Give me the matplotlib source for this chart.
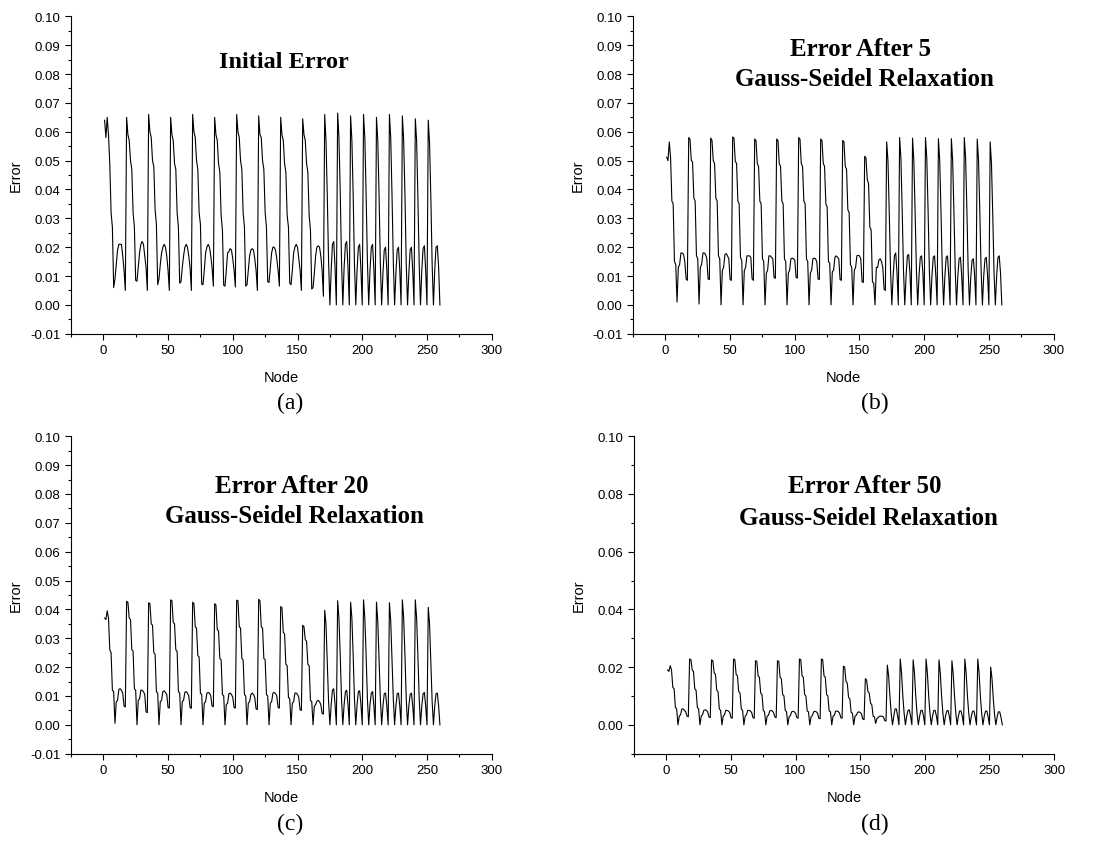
import numpy as np
import matplotlib.pyplot as plt
from matplotlib.ticker import MultipleLocator, FormatStrFormatter

plt.rcParams['font.family'] = 'Liberation Sans'

# error per node, one line per mesh row (10 rows of 17 nodes, then 9 rows of 10)
err_initial = [
    0.064, 0.058, 0.065, 0.059, 0.049, 0.032, 0.027, 0.006, 0.009, 0.014, 0.019, 0.021, 0.021, 0.021, 0.017, 0.012, 0.005,
    0.065, 0.059, 0.057, 0.050, 0.047, 0.032, 0.027, 0.0085, 0.0082, 0.013, 0.018, 0.021, 0.022, 0.021, 0.017, 0.013, 0.005,
    0.066, 0.060, 0.058, 0.050, 0.048, 0.033, 0.028, 0.007, 0.009, 0.014, 0.018, 0.020, 0.021, 0.020, 0.017, 0.012, 0.005,
    0.065, 0.059, 0.057, 0.049, 0.047, 0.032, 0.027, 0.0075, 0.008, 0.013, 0.017, 0.020, 0.021, 0.020, 0.017, 0.013, 0.005,
    0.066, 0.060, 0.058, 0.050, 0.047, 0.032, 0.028, 0.0072, 0.0070, 0.012, 0.018, 0.020, 0.021, 0.020, 0.017, 0.013, 0.0065,
    0.065, 0.059, 0.057, 0.049, 0.046, 0.031, 0.026, 0.0068, 0.0065, 0.012, 0.018, 0.0185, 0.0195, 0.019, 0.016, 0.012, 0.0062,
    0.066, 0.060, 0.058, 0.050, 0.047, 0.032, 0.027, 0.0065, 0.007, 0.012, 0.017, 0.019, 0.0195, 0.019, 0.016, 0.012, 0.005,
    0.0655, 0.059, 0.058, 0.050, 0.047, 0.032, 0.027, 0.008, 0.0078, 0.013, 0.018, 0.020, 0.020, 0.019, 0.016, 0.012, 0.0065,
    0.065, 0.059, 0.057, 0.049, 0.046, 0.031, 0.027, 0.0075, 0.007, 0.012, 0.018, 0.020, 0.021, 0.020, 0.016, 0.012, 0.005,
    0.0645, 0.059, 0.057, 0.049, 0.046, 0.031, 0.026, 0.0055, 0.006, 0.011, 0.017, 0.020, 0.0205, 0.020, 0.017, 0.012, 0.003,
    0.066, 0.057, 0.038, 0.015, 0.000, 0.012, 0.021, 0.022, 0.013, 0.000,
    0.0665, 0.058, 0.039, 0.015, 0.000, 0.013, 0.021, 0.022, 0.013, 0.000,
    0.0655, 0.057, 0.038, 0.014, 0.000, 0.012, 0.020, 0.021, 0.012, 0.000,
    0.066, 0.058, 0.038, 0.015, 0.000, 0.012, 0.020, 0.021, 0.012, 0.000,
    0.065, 0.057, 0.038, 0.014, 0.000, 0.011, 0.019, 0.020, 0.012, 0.000,
    0.066, 0.058, 0.038, 0.015, 0.000, 0.011, 0.019, 0.020, 0.012, 0.000,
    0.0655, 0.057, 0.038, 0.014, 0.000, 0.011, 0.019, 0.020, 0.012, 0.000,
    0.0645, 0.057, 0.037, 0.014, 0.000, 0.012, 0.0195, 0.0205, 0.012, 0.000,
    0.064, 0.056, 0.037, 0.014, 0.000, 0.012, 0.020, 0.0205, 0.013, 0.000,
]

err_gs5 = [
    0.0512, 0.050, 0.0565, 0.051, 0.036, 0.035, 0.015, 0.014, 0.001, 0.013, 0.014, 0.018, 0.018, 0.0175, 0.015, 0.009, 0.0085,
    0.058, 0.0575, 0.050, 0.0495, 0.037, 0.036, 0.017, 0.016, 0.0003, 0.013, 0.014, 0.018, 0.018, 0.0175, 0.016, 0.009, 0.0088,
    0.0578, 0.057, 0.050, 0.049, 0.037, 0.036, 0.017, 0.016, 0.000, 0.012, 0.013, 0.0175, 0.0178, 0.017, 0.016, 0.0088, 0.0085,
    0.0582, 0.0578, 0.0498, 0.049, 0.036, 0.035, 0.0165, 0.0155, 0.000, 0.012, 0.013, 0.017, 0.017, 0.017, 0.0165, 0.009, 0.0085,
    0.0575, 0.057, 0.049, 0.048, 0.036, 0.035, 0.016, 0.015, 0.000, 0.011, 0.012, 0.017, 0.017, 0.0165, 0.016, 0.0095, 0.0092,
    0.0575, 0.057, 0.049, 0.048, 0.036, 0.035, 0.016, 0.015, 0.000, 0.011, 0.012, 0.016, 0.0162, 0.016, 0.0155, 0.0095, 0.0093,
    0.058, 0.0575, 0.049, 0.048, 0.036, 0.035, 0.016, 0.015, 0.000, 0.011, 0.012, 0.016, 0.0162, 0.016, 0.015, 0.009, 0.0088,
    0.0575, 0.057, 0.049, 0.048, 0.035, 0.034, 0.015, 0.0145, 0.000, 0.0115, 0.012, 0.0165, 0.017, 0.0165, 0.016, 0.0088, 0.0085,
    0.057, 0.0565, 0.048, 0.047, 0.033, 0.032, 0.014, 0.013, 0.000, 0.012, 0.013, 0.017, 0.0172, 0.017, 0.016, 0.008, 0.0078,
    0.0515, 0.051, 0.0435, 0.042, 0.027, 0.026, 0.008, 0.0075, 0.000, 0.013, 0.013, 0.0155, 0.016, 0.015, 0.013, 0.0055, 0.005,
    0.0565, 0.050, 0.032, 0.012, 0.000, 0.010, 0.017, 0.018, 0.011, 0.000,
    0.058, 0.051, 0.033, 0.012, 0.000, 0.010, 0.017, 0.0175, 0.011, 0.000,
    0.0578, 0.050, 0.032, 0.012, 0.000, 0.010, 0.0165, 0.017, 0.011, 0.000,
    0.058, 0.051, 0.033, 0.012, 0.000, 0.010, 0.0165, 0.017, 0.010, 0.000,
    0.0576, 0.050, 0.032, 0.012, 0.000, 0.010, 0.0165, 0.017, 0.010, 0.000,
    0.0576, 0.050, 0.032, 0.012, 0.000, 0.010, 0.016, 0.0165, 0.010, 0.000,
    0.058, 0.051, 0.033, 0.012, 0.000, 0.0095, 0.0155, 0.016, 0.010, 0.000,
    0.0575, 0.050, 0.032, 0.012, 0.000, 0.010, 0.016, 0.0165, 0.010, 0.000,
    0.0565, 0.049, 0.031, 0.011, 0.000, 0.010, 0.0165, 0.017, 0.011, 0.000,
]

err_gs20 = [
    0.037, 0.0365, 0.0395, 0.037, 0.026, 0.025, 0.012, 0.0115, 0.0005, 0.008, 0.0085, 0.0123, 0.0125, 0.012, 0.011, 0.0065, 0.0062,
    0.0428, 0.0425, 0.037, 0.0365, 0.026, 0.0255, 0.0125, 0.012, 0.000, 0.0085, 0.009, 0.012, 0.012, 0.0115, 0.0105, 0.0045, 0.0042,
    0.0423, 0.042, 0.035, 0.0345, 0.025, 0.0245, 0.0115, 0.011, 0.000, 0.008, 0.0085, 0.0115, 0.0118, 0.0112, 0.0105, 0.006, 0.0058,
    0.0433, 0.043, 0.0355, 0.035, 0.026, 0.0255, 0.0115, 0.011, 0.000, 0.008, 0.0085, 0.0113, 0.0115, 0.011, 0.010, 0.006, 0.0057,
    0.0425, 0.042, 0.034, 0.0335, 0.024, 0.0235, 0.011, 0.0105, 0.000, 0.0075, 0.008, 0.011, 0.0112, 0.011, 0.010, 0.0065, 0.0063,
    0.042, 0.0415, 0.033, 0.0325, 0.023, 0.0225, 0.0105, 0.010, 0.000, 0.007, 0.0075, 0.0108, 0.011, 0.0105, 0.0095, 0.006, 0.0058,
    0.0432, 0.043, 0.034, 0.0335, 0.023, 0.0225, 0.0105, 0.010, 0.000, 0.0075, 0.008, 0.0105, 0.011, 0.0105, 0.0095, 0.0055, 0.0053,
    0.0435, 0.043, 0.034, 0.0335, 0.023, 0.0225, 0.0105, 0.010, 0.000, 0.0075, 0.008, 0.011, 0.0112, 0.0108, 0.010, 0.006, 0.0058,
    0.041, 0.0405, 0.032, 0.0315, 0.021, 0.0205, 0.0095, 0.009, 0.000, 0.0075, 0.008, 0.011, 0.011, 0.0105, 0.0095, 0.0052, 0.005,
    0.0345, 0.034, 0.0295, 0.029, 0.021, 0.0205, 0.0085, 0.008, 0.000, 0.0065, 0.007, 0.0082, 0.0085, 0.008, 0.007, 0.004, 0.0037,
    0.0397, 0.035, 0.022, 0.008, 0.000, 0.007, 0.012, 0.0125, 0.007, 0.000,
    0.043, 0.037, 0.024, 0.009, 0.000, 0.007, 0.0115, 0.012, 0.007, 0.000,
    0.0425, 0.037, 0.024, 0.009, 0.000, 0.007, 0.0115, 0.0118, 0.007, 0.000,
    0.0433, 0.037, 0.024, 0.009, 0.000, 0.007, 0.011, 0.0115, 0.0065, 0.000,
    0.0425, 0.036, 0.023, 0.009, 0.000, 0.0065, 0.0108, 0.011, 0.0065, 0.000,
    0.0423, 0.036, 0.023, 0.009, 0.000, 0.0065, 0.0108, 0.011, 0.0065, 0.000,
    0.0433, 0.037, 0.024, 0.009, 0.000, 0.0065, 0.0105, 0.011, 0.0065, 0.000,
    0.0433, 0.037, 0.024, 0.009, 0.000, 0.0065, 0.0108, 0.0112, 0.0065, 0.000,
    0.0407, 0.035, 0.022, 0.008, 0.000, 0.0065, 0.0108, 0.011, 0.0065, 0.000,
]

err_gs50 = [
    0.019, 0.0185, 0.0205, 0.019, 0.013, 0.0125, 0.006, 0.0055, 0.000, 0.003, 0.0035, 0.0055, 0.0055, 0.005, 0.0045, 0.003, 0.0028,
    0.0228, 0.0226, 0.019, 0.0185, 0.0125, 0.012, 0.006, 0.0055, 0.000, 0.003, 0.0035, 0.005, 0.0052, 0.005, 0.0045, 0.0027, 0.0025,
    0.0225, 0.0222, 0.018, 0.0175, 0.012, 0.0115, 0.0055, 0.005, 0.000, 0.003, 0.0035, 0.005, 0.005, 0.0048, 0.0043, 0.0025, 0.0023,
    0.0228, 0.0226, 0.0175, 0.017, 0.0115, 0.011, 0.0055, 0.005, 0.000, 0.003, 0.0035, 0.005, 0.005, 0.0048, 0.0043, 0.0025, 0.0023,
    0.0222, 0.022, 0.017, 0.0165, 0.011, 0.0105, 0.005, 0.0045, 0.000, 0.003, 0.0033, 0.0048, 0.005, 0.0048, 0.0042, 0.0027, 0.0025,
    0.0222, 0.022, 0.0165, 0.016, 0.0105, 0.010, 0.005, 0.0045, 0.000, 0.0028, 0.0032, 0.0045, 0.0047, 0.0045, 0.004, 0.0025, 0.0023,
    0.0228, 0.0226, 0.017, 0.0165, 0.0105, 0.010, 0.0048, 0.0045, 0.000, 0.0028, 0.0032, 0.0045, 0.0047, 0.0045, 0.004, 0.0023, 0.0021,
    0.0228, 0.0226, 0.017, 0.0165, 0.0105, 0.010, 0.0048, 0.0045, 0.000, 0.003, 0.0033, 0.0047, 0.0048, 0.0046, 0.0041, 0.0025, 0.0023,
    0.0203, 0.020, 0.015, 0.0145, 0.0095, 0.009, 0.0043, 0.004, 0.000, 0.003, 0.0033, 0.0043, 0.0045, 0.0043, 0.0038, 0.002, 0.0018,
    0.016, 0.0155, 0.0115, 0.011, 0.0075, 0.007, 0.003, 0.0028, 0.0005, 0.0022, 0.0025, 0.003, 0.003, 0.003, 0.0027, 0.0015, 0.0013,
    0.0207, 0.017, 0.010, 0.004, 0.000, 0.003, 0.0055, 0.0055, 0.003, 0.000,
    0.0228, 0.018, 0.010, 0.004, 0.000, 0.003, 0.005, 0.0052, 0.003, 0.000,
    0.0225, 0.018, 0.010, 0.004, 0.000, 0.003, 0.005, 0.005, 0.003, 0.000,
    0.0228, 0.018, 0.010, 0.004, 0.000, 0.003, 0.005, 0.005, 0.003, 0.000,
    0.0225, 0.018, 0.010, 0.004, 0.000, 0.003, 0.0048, 0.005, 0.003, 0.000,
    0.0222, 0.0175, 0.010, 0.004, 0.000, 0.003, 0.0048, 0.0048, 0.003, 0.000,
    0.0228, 0.018, 0.010, 0.004, 0.000, 0.003, 0.0047, 0.0048, 0.0028, 0.000,
    0.0228, 0.018, 0.010, 0.004, 0.000, 0.003, 0.0047, 0.0048, 0.0028, 0.000,
    0.020, 0.016, 0.009, 0.0035, 0.000, 0.0028, 0.0045, 0.0045, 0.0025, 0.000,
]

title_lines = [["Initial Error"],
               ["Error After 5", "Gauss-Seidel Relaxation"],
               ["Error After 20", "Gauss-Seidel Relaxation"],
               ["Error After 50", "Gauss-Seidel Relaxation"]]
tags = ["(a)", "(b)", "(c)", "(d)"]

fig = plt.figure(figsize=(11, 8.54), dpi=100)

# axes boxes in figure fractions
boxes = [[0.0645, 0.608, 0.3825, 0.3717],
         [0.5755, 0.608, 0.3823, 0.3717],
         [0.0645, 0.1163, 0.3825, 0.3717],
         [0.5764, 0.1163, 0.3818, 0.3717]]
# centre of each title line, axes fractions
title_pos = [[(0.506, 0.859)],
             [(0.5415, 0.900), (0.551, 0.803)],
             [(0.525, 0.846), (0.532, 0.749)],
             [(0.550, 0.844), (0.558, 0.745)]]
title_size = [17.5, 18, 18, 18]
tag_xy = [(0.2636, 0.527), (0.795, 0.527), (0.2636, 0.035), (0.795, 0.035)]

for i, err in enumerate([err_initial, err_gs5, err_gs20, err_gs50]):
    ax = fig.add_axes(boxes[i])
    nodes = np.arange(1, len(err) + 1)
    ax.plot(nodes, err, color='black', lw=0.8)

    ax.set_xlim(-25, 300)
    ax.set_ylim(-0.01, 0.10)
    ax.spines['top'].set_visible(False)
    ax.spines['right'].set_visible(False)
    for s in ['left', 'bottom']:
        ax.spines[s].set_linewidth(0.8)

    ax.xaxis.set_major_locator(MultipleLocator(50))
    ax.xaxis.set_minor_locator(MultipleLocator(25))
    if i == 3:
        ax.yaxis.set_major_locator(MultipleLocator(0.02))
        ax.yaxis.set_minor_locator(MultipleLocator(0.01))
    else:
        ax.yaxis.set_major_locator(MultipleLocator(0.01))
        ax.yaxis.set_minor_locator(MultipleLocator(0.005))
    ax.yaxis.set_major_formatter(FormatStrFormatter('%.2f'))
    ax.tick_params(which='major', direction='out', length=4.5, width=0.8, labelsize=9.5, pad=3)
    ax.tick_params(which='minor', direction='out', length=2.5, width=0.8)

    ax.set_xlabel("Node", fontsize=10.5)
    ax.set_ylabel("Error", fontsize=10.5)
    ax.xaxis.set_label_coords(0.5, -0.115)
    ax.yaxis.set_label_coords(-0.115, 0.5)

    for line, (tx, ty) in zip(title_lines[i], title_pos[i]):
        ax.text(tx, ty, line, transform=ax.transAxes, ha='center', va='center',
                fontsize=title_size[i], fontweight='bold', family='Liberation Serif')

    fig.text(tag_xy[i][0], tag_xy[i][1], tags[i], ha='center', va='center',
             fontsize=17, family='Liberation Serif')

fig.savefig('out.png', dpi=100)
